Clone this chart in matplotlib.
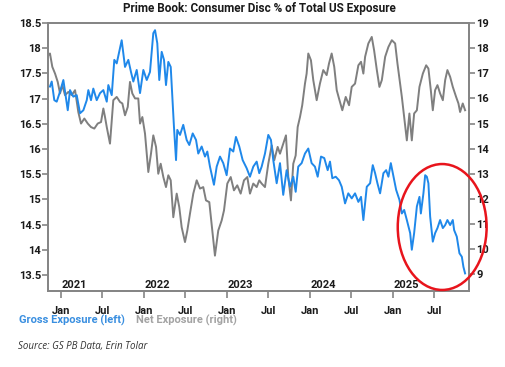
import numpy as np
import pandas as pd
import matplotlib
matplotlib.use("Agg")
import matplotlib.pyplot as plt
import matplotlib.dates as mdates
from matplotlib.patches import Ellipse

# %%
# Values (x as decimal years)
gross_t = [2020.867, 2020.888, 2020.919, 2020.948, 2020.988, 2021.028, 2021.057, 2021.081, 2021.108, 2021.148,
           2021.189, 2021.229, 2021.269, 2021.310, 2021.329, 2021.361, 2021.389, 2021.430, 2021.470, 2021.510,
           2021.551, 2021.570, 2021.611, 2021.642, 2021.671, 2021.731, 2021.771, 2021.811, 2021.843, 2021.871,
           2021.912, 2021.952, 2021.992, 2022.033, 2022.072, 2022.112, 2022.133, 2022.160, 2022.184, 2022.213,
           2022.241, 2022.265, 2022.293, 2022.322, 2022.346, 2022.361, 2022.386, 2022.401, 2022.434, 2022.473,
           2022.514, 2022.546, 2022.587, 2022.627, 2022.654, 2022.695, 2022.735, 2022.763, 2022.795, 2022.843,
           2022.876, 2022.916, 2022.955, 2022.996, 2023.036, 2023.076, 2023.108, 2023.148, 2023.189, 2023.237,
           2023.277, 2023.317, 2023.358, 2023.389, 2023.418, 2023.458, 2023.498, 2023.530, 2023.558, 2023.599,
           2023.639, 2023.678, 2023.719, 2023.759, 2023.799, 2023.828, 2023.859, 2023.900, 2023.940, 2023.980,
           2024.020, 2024.060, 2024.093, 2024.133, 2024.172, 2024.213, 2024.241, 2024.269, 2024.310, 2024.349,
           2024.382, 2024.422, 2024.461, 2024.502, 2024.542, 2024.582, 2024.614, 2024.642, 2024.683, 2024.723,
           2024.755, 2024.783, 2024.811, 2024.843, 2024.883, 2024.916, 2024.943, 2024.972, 2025.004, 2025.036,
           2025.076, 2025.105, 2025.133, 2025.165, 2025.205, 2025.225, 2025.253, 2025.286, 2025.317, 2025.334,
           2025.365, 2025.386, 2025.406, 2025.425, 2025.446, 2025.478, 2025.506, 2025.534, 2025.566, 2025.599,
           2025.627, 2025.654, 2025.687, 2025.719, 2025.735, 2025.767, 2025.799, 2025.828, 2025.847, 2025.867]
gross = [17.24, 17.34, 16.97, 16.94, 17.14, 17.37, 17.04, 16.77, 17.17, 17.04,
         17.07, 16.71, 16.77, 16.97, 17.17, 16.97, 17.20, 16.97, 17.11, 17.17,
         16.94, 17.27, 17.07, 17.77, 17.70, 18.16, 17.63, 17.77, 17.53, 17.34,
         17.57, 17.11, 17.57, 17.37, 17.53, 18.30, 18.36, 18.10, 17.37, 17.93,
         17.77, 17.27, 17.73, 17.63, 16.91, 16.44, 15.78, 16.38, 16.28, 16.48,
         16.18, 16.08, 16.31, 16.18, 15.91, 16.05, 15.85, 15.95, 15.65, 15.29,
         15.65, 15.85, 15.72, 15.48, 16.01, 15.95, 16.24, 16.05, 15.78, 15.62,
         15.45, 15.65, 15.75, 15.52, 15.65, 15.91, 16.28, 16.18, 15.78, 15.32,
         15.72, 15.09, 15.58, 15.25, 15.45, 15.15, 15.65, 15.72, 15.91, 16.01,
         15.72, 15.65, 15.45, 15.85, 15.82, 15.58, 15.75, 15.42, 15.45, 15.38,
         15.25, 14.92, 15.12, 15.02, 15.12, 14.95, 15.05, 14.59, 15.25, 15.32,
         15.68, 15.52, 15.32, 15.12, 15.52, 15.58, 15.45, 15.72, 15.45, 15.19,
         14.99, 14.72, 14.79, 14.59, 14.33, 14.00, 14.33, 14.86, 15.05, 14.72,
         15.12, 15.48, 15.45, 15.32, 14.66, 14.16, 14.33, 14.43, 14.59, 14.43,
         14.49, 14.59, 14.49, 14.59, 14.39, 14.26, 13.93, 13.86, 13.66, 13.53]

net_t = [2020.847, 2020.867, 2020.895, 2020.928, 2020.960, 2020.988, 2021.016, 2021.048, 2021.088, 2021.129,
         2021.169, 2021.208, 2021.241, 2021.281, 2021.322, 2021.361, 2021.401, 2021.442, 2021.482, 2021.510,
         2021.530, 2021.551, 2021.590, 2021.611, 2021.630, 2021.671, 2021.711, 2021.739, 2021.771, 2021.804,
         2021.831, 2021.859, 2021.892, 2021.931, 2021.952, 2021.980, 2022.012, 2022.052, 2022.084, 2022.112,
         2022.145, 2022.172, 2022.201, 2022.233, 2022.265, 2022.293, 2022.322, 2022.353, 2022.394, 2022.425,
         2022.454, 2022.494, 2022.522, 2022.554, 2022.594, 2022.635, 2022.675, 2022.714, 2022.747, 2022.787,
         2022.828, 2022.855, 2022.895, 2022.936, 2022.964, 2023.004, 2023.045, 2023.084, 2023.124, 2023.165,
         2023.205, 2023.245, 2023.277, 2023.317, 2023.358, 2023.389, 2023.418, 2023.458, 2023.498, 2023.539,
         2023.570, 2023.611, 2023.639, 2023.678, 2023.711, 2023.739, 2023.771, 2023.799, 2023.828, 2023.852,
         2023.880, 2023.907, 2023.940, 2023.960, 2023.980, 2024.012, 2024.040, 2024.081, 2024.120, 2024.160,
         2024.201, 2024.229, 2024.261, 2024.292, 2024.322, 2024.349, 2024.389, 2024.430, 2024.470, 2024.502,
         2024.542, 2024.582, 2024.614, 2024.642, 2024.663, 2024.702, 2024.743, 2024.771, 2024.804, 2024.835,
         2024.864, 2024.904, 2024.943, 2024.984, 2025.024, 2025.052, 2025.084, 2025.105, 2025.133, 2025.165,
         2025.196, 2025.225, 2025.253, 2025.286, 2025.317, 2025.358, 2025.398, 2025.425, 2025.454, 2025.478,
         2025.506, 2025.534, 2025.566, 2025.599, 2025.627, 2025.654, 2025.687, 2025.719, 2025.759, 2025.787,
         2025.807, 2025.839, 2025.867]
net = [17.72, 17.79, 17.26, 16.99, 16.66, 16.20, 16.53, 16.13, 16.26, 16.13,
       16.33, 15.46, 15.00, 15.20, 15.00, 14.86, 14.80, 15.00, 15.06, 15.60,
       15.26, 14.86, 14.20, 15.13, 15.93, 16.06, 15.86, 15.80, 15.33, 15.66,
       16.66, 16.20, 16.00, 16.00, 15.00, 15.26, 14.60, 13.07, 13.80, 14.53,
       14.07, 13.00, 13.40, 12.87, 12.47, 12.94, 12.74, 11.27, 12.21, 11.67,
       10.87, 10.28, 10.74, 11.41, 12.21, 12.74, 12.41, 12.47, 11.94, 11.87,
       10.61, 9.74, 10.74, 11.14, 11.54, 12.61, 12.87, 12.34, 12.54, 12.21,
       12.74, 12.87, 12.21, 12.61, 12.47, 12.74, 12.61, 12.47, 13.40, 14.13,
       13.54, 14.07, 13.80, 14.20, 14.53, 12.87, 11.94, 13.40, 13.73, 14.86,
       15.26, 15.73, 16.59, 16.99, 17.79, 17.52, 16.73, 15.93, 16.59, 17.13,
       16.93, 17.39, 17.79, 17.26, 16.33, 16.00, 15.53, 16.06, 15.73, 16.46,
       16.59, 17.32, 17.46, 16.99, 17.66, 18.19, 18.45, 17.92, 17.13, 16.46,
       16.73, 17.66, 18.05, 18.32, 18.19, 17.39, 16.59, 16.06, 15.26, 14.33,
       15.40, 14.33, 15.40, 15.53, 16.46, 16.99, 17.32, 17.19, 16.33, 15.53,
       16.33, 16.53, 16.20, 15.93, 16.73, 17.13, 16.86, 16.46, 16.06, 15.80,
       15.46, 15.80, 15.53]

years = [2021, 2022, 2023, 2024, 2025]
left_ticks = [13.5, 14, 14.5, 15, 15.5, 16, 16.5, 17, 17.5, 18, 18.5]
right_ticks = [9, 10, 11, 12, 13, 14, 15, 16, 17, 18, 19]


def to_dates(ts):
    out = []
    for t in ts:
        y = int(np.floor(t))
        start = pd.Timestamp(year=y, month=1, day=1)
        days = (pd.Timestamp(year=y + 1, month=1, day=1) - start).days
        out.append(start + pd.Timedelta(days=(t - y) * days))
    return out


BLUE = "#1f88ea"
GREY = "#7f7f7f"
SPINE = "#858585"
TXT = "#1a1a1a"

plt.rcParams["font.family"] = ["Roboto", "DejaVu Sans"]

fig = plt.figure(figsize=(5.05, 3.67), dpi=100)
ax = fig.add_axes([0.095, 0.207, 0.834, 0.730])
ax2 = ax.twinx()

ax.plot(to_dates(gross_t), gross, color=BLUE, lw=1.4, zorder=3)
ax2.plot(to_dates(net_t), net, color=GREY, lw=1.4, zorder=2)
ax.set_zorder(ax2.get_zorder() + 1)
ax.patch.set_visible(False)

ax.set_xlim(to_dates([2020.843])[0], to_dates([2025.916])[0])
ax.set_ylim(13.18, 18.5)
ax2.set_ylim(8.33, 19)
ax.set_yticks(left_ticks)
ax2.set_yticks(right_ticks)
ax.yaxis.set_major_formatter(plt.FormatStrFormatter("%g"))
ax2.yaxis.set_major_formatter(plt.FormatStrFormatter("%g"))

ax.xaxis.set_major_locator(mdates.MonthLocator(bymonth=[1, 7]))
ax.xaxis.set_major_formatter(mdates.DateFormatter("%b"))

for a in (ax, ax2):
    for s in a.spines.values():
        s.set_color(SPINE)
        s.set_linewidth(1.3)
    a.tick_params(axis="both", colors=SPINE, labelcolor=TXT, labelsize=8, length=4, width=1.2)
    for lab in a.get_yticklabels():
        lab.set_fontweight("bold")
ax.tick_params(axis="y", pad=1)
ax2.tick_params(axis="y", pad=1)
ax.tick_params(axis="x", length=5, pad=5.5)
for lab in ax.get_xticklabels():
    lab.set_fontweight("bold")

for y in years:
    ax.text(to_dates([y + 0.16])[0], 13.21, str(y), ha="center", va="bottom",
            fontsize=8, fontweight="bold", color=TXT)

# red circle around 2025
ax.add_patch(Ellipse((0.936, 0.239), 0.211, 0.47, transform=ax.transAxes,
                     fill=False, edgecolor="#e8141c", lw=1.8, clip_on=False, zorder=5))

fig.text(0.513, 0.978, "Prime Book: Consumer Disc % of Total US Exposure", ha="center", va="center",
         fontsize=8.5, fontweight="bold", color=TXT)
fig.text(0.037, 0.128, "Gross Exposure (left)", ha="left", va="center", fontsize=8,
         fontweight="bold", color="#3a8fe0")
fig.text(0.269, 0.128, "Net Exposure (right)", ha="left", va="center", fontsize=8,
         fontweight="bold", color="#a3a3a3")
fig.text(0.036, 0.055, "Source: GS PB Data, Erin Tolar", ha="left", va="center", fontsize=7,
         style="italic", family="Open Sans", color="#333333")

fig.savefig("out.png", dpi=100)
